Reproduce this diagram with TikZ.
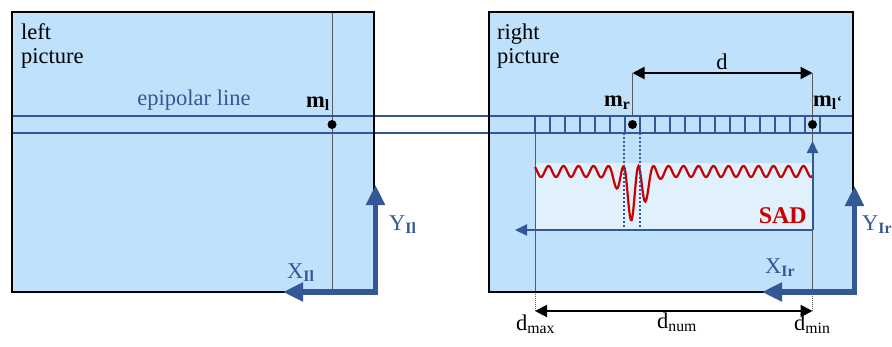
\documentclass[tikz,border=0pt]{standalone}
\usepackage{fontspec}
\setmainfont{Liberation Serif}
\usepackage{xcolor}
\usetikzlibrary{arrows.meta}

\definecolor{picblue}{RGB}{191,225,251}
\definecolor{sadblue}{RGB}{224,240,253}
\definecolor{lineblue}{RGB}{52,88,150}
\definecolor{sadred}{RGB}{200,0,0}

\begin{document}
\begin{tikzpicture}[x=1pt, y=-1pt,
    txt/.style={inner sep=0pt, font=\fontsize{22.5}{25}\selectfont},
    pointdot/.style={circle, fill=black, inner sep=0pt, minimum size=9pt},
    thinline/.style={gray!70!black, line width=1pt},
    bandline/.style={lineblue, line width=2.4pt},
    coordaxis/.style={lineblue, line width=5.5pt, line join=miter,
        {Triangle[length=20pt,width=18pt]}-{Triangle[length=20pt,width=18pt]}},
    measure/.style={black, line width=2pt,
        {Triangle[length=12pt,width=12pt]}-{Triangle[length=12pt,width=12pt]}},
    scanarrow/.style={lineblue, line width=2pt, -{Triangle[length=12pt,width=11pt]}}]
    \useasboundingbox (0,0) rectangle (892,346);

    % Two pictures
    \fill[picblue] (12,12) rectangle (374,292);
    \fill[picblue] (489,12) rectangle (853,292);
    \fill[sadblue] (535,163) rectangle (812.5,230);

    % Thin guide lines
    \draw[thinline] (332,12) -- (332,289);
    \draw[thinline] (632.5,73) -- (632.5,116);
    \draw[thinline] (812.5,73) -- (812.5,292);
    \draw[thinline] (535,133) -- (535,292);
    \draw[thinline, densely dotted] (535,292) -- (535,311);
    \draw[thinline, densely dotted] (812.5,292) -- (812.5,311);

    % SAD curve
    \draw[sadred, line width=2.2pt] plot[domain=535:812.5, samples=320]
        (\x, {166 + (11+45*exp(-min(((\x-634)/15)^2, 30)))*(1+cos(24*(\x-631)))/2});
    \draw[lineblue, line width=2pt, dash pattern=on 2pt off 2pt] (623.5,133) -- (623.5,230);
    \draw[lineblue, line width=2pt, dash pattern=on 2pt off 2pt] (639.5,133) -- (639.5,230);

    % Epipolar line with search cells
    \draw[bandline] (12,116) -- (853,116);
    \draw[bandline] (12,133) -- (853,133);
    \foreach \i in {0,...,18}
        \draw[bandline] (535+15*\i,116) rectangle ++(15,17);
    \node[pointdot] (ml) at (332,124.5) {};
    \node[pointdot] (mr) at (632.5,124.5) {};
    \node[pointdot] (mlr) at (812.5,124.5) {};

    % Frames
    \draw[black, line width=1.5pt] (12,12) rectangle (374,292);
    \draw[black, line width=1.5pt] (489,12) rectangle (853,292);

    % Disparity d
    \coordinate (dleft) at (632.5,73);
    \coordinate (dright) at (812.5,73);
    \draw[measure] (dleft) -- (dright);
    \node[txt, anchor=base] (dlabel) at (722,69) {d};

    % SAD search
    \coordinate (sadcorner) at (812.5,230);
    \coordinate (sadend) at (515,230);
    \coordinate (sadtop) at (812.5,141);
    \draw[scanarrow] (sadcorner) -- (sadtop);
    \draw[scanarrow] (sadcorner) -- (sadend);
    \node[txt, font=\fontsize{24}{24}\selectfont\bfseries, text=sadred, anchor=base east] (sad) at (807,223) {SAD};

    % Coordinate axes
    \coordinate (lx) at (283,292);
    \coordinate (lo) at (375.5,292);
    \coordinate (ly) at (375.5,185);
    \draw[coordaxis] (lx) -- (lo) -- (ly);
    \coordinate (rx) at (762,292);
    \coordinate (ro) at (854.5,292);
    \coordinate (ry) at (854.5,186);
    \draw[coordaxis] (rx) -- (ro) -- (ry);

    % Search range
    \coordinate (dmax) at (535,311);
    \coordinate (dmin) at (812.5,311);
    \draw[measure] (dmax) -- (dmin);

    % Labels
    \node[txt, anchor=base west] (lefttitle) at (21,39) {left};
    \node[txt, anchor=base west] (leftpic) at (21,63) {picture};
    \node[txt, anchor=base west] (righttitle) at (497,39) {right};
    \node[txt, anchor=base west] (rightpic) at (497,63) {picture};
    \node[txt, text=lineblue, anchor=base] (epi) at (194,105) {epipolar line};
    \node[txt, anchor=base west] (mllabel) at (306,107) {\textbf{m\textsubscript{l}}};
    \node[txt, anchor=base west] (mrlabel) at (604,106) {\textbf{m\textsubscript{r}}};
    \node[txt, anchor=base west] (mlrlabel) at (813,106) {\textbf{m\textsubscript{l}{\fontsize{15}{15}\selectfont‘}}};
    \node[txt, text=lineblue, anchor=base west] (xil) at (287,278) {X\textsubscript{\textbf{Il}}};
    \node[txt, text=lineblue, anchor=base west] (yil) at (389,230) {Y\textsubscript{\textbf{Il}}};
    \node[txt, text=lineblue, anchor=base west] (xir) at (765,273) {X\textsubscript{\textbf{Ir}}};
    \node[txt, text=lineblue, anchor=base west] (yir) at (862,230) {Y\textsubscript{\textbf{Ir}}};
    \node[txt, anchor=base west] (dmaxlabel) at (516,330) {d\textsubscript{max}};
    \node[txt, anchor=base west] (dnumlabel) at (657,328) {d\textsubscript{num}};
    \node[txt, anchor=base west] (dminlabel) at (794,330) {d\textsubscript{min}};
\end{tikzpicture}
\end{document}
